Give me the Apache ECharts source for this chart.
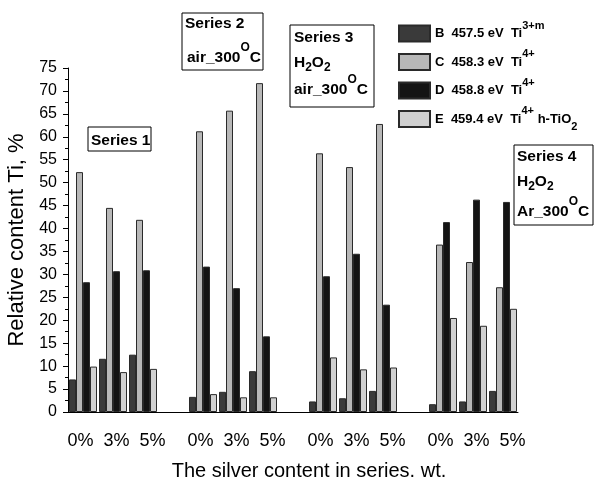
<!DOCTYPE html>
<html>
<head>
<meta charset="utf-8">
<script src="https://cdn.jsdelivr.net/npm/echarts@6/dist/echarts.min.js"></script>
<style>
html, body { margin: 0; padding: 0; background: #fff; }
#chart { width: 596px; height: 479px; }
</style>
</head>
<body>
<div id="chart"></div>
<script>
// silver content per slot, empty slots separate the four series
var categories = ['0%', '3%', '5%', '', '0%', '3%', '5%', '', '0%', '3%', '5%', '', '0%', '3%', '5%'];
var seriesB = [7.1, 11.6, 12.5, '-', 3.3, 4.4, 8.9, '-', 2.3, 3.0, 4.6, '-', 1.7, 2.3, 4.6];
var seriesC = [52.3, 44.5, 41.9, '-', 61.2, 65.7, 71.7, '-', 56.4, 53.4, 62.8, '-', 36.5, 32.7, 27.2];
var seriesD = [28.3, 30.7, 30.9, '-', 31.7, 27.0, 16.5, '-', 29.6, 34.5, 23.4, '-', 41.4, 46.3, 45.8];
var seriesE = [9.9, 8.7, 9.4, '-', 3.9, 3.2, 3.2, '-', 11.9, 9.3, 9.7, '-', 20.5, 18.8, 22.5];

var peakNames = ['B', 'C', 'D', 'E'];
var peakEnergy = ['457.5 eV', '458.3 eV', '458.8 eV', '459.4 eV'];
var peakState = ['3+m', '4+', '4+', '4+'];
var peakColors = ['#3a3a3a', '#b8b8b8', '#141414', '#d0d0d0'];

var font = 'Liberation Sans';

var myChart = echarts.init(document.getElementById('chart'));

function legendText(name) {
    var i = peakNames.indexOf(name);
    var s = '{n|' + name + '  ' + peakEnergy[i] + '  Ti}{s|' + peakState[i] + '}';
    if (name === 'E') s += '{n| h-TiO}{b|2}';
    return s;
}

// one text line of an annotation box
function noteLine(x, y, text) {
    return {
        type: 'text',
        style: {
            x: x, y: y, text: text,
            align: 'left', verticalAlign: 'middle',
            fill: '#000',
            rich: {
                n: { fontFamily: font, fontWeight: 'bold', fontSize: 15.5, padding: [8, 0, 8, 0], verticalAlign: 'middle' },
                m: { fontFamily: font, fontWeight: 'bold', fontSize: 15.5, padding: [3, 0, 3, 0], verticalAlign: 'middle' },
                s: { fontFamily: font, fontWeight: 'bold', fontSize: 12, verticalAlign: 'top' },
                b: { fontFamily: font, fontWeight: 'bold', fontSize: 12, verticalAlign: 'bottom' }
            }
        },
        z: 20
    };
}

function noteBox(x, y, w, h) {
    return {
        type: 'rect',
        shape: { x: x, y: y, width: w, height: h },
        style: { fill: '#fff', stroke: '#000', lineWidth: 1 },
        z: 19
    };
}

var labelKey = { '0%': 'a', '3%': 'b', '5%': 'c' };

var series = [seriesB, seriesC, seriesD, seriesE].map(function (d, i) {
    return {
        name: peakNames[i],
        type: 'bar',
        data: d,
        barWidth: 7,
        barGap: '0%',
        itemStyle: { color: peakColors[i], borderColor: '#2a2a2a', borderWidth: 1 }
    };
});

option = {
    backgroundColor: '#fff',
    animation: false,
    grid: { left: 68, right: 78, top: 68, bottom: 67, containLabel: false, outerBoundsMode: 'none' },
    legend: {
        orient: 'vertical',
        left: 393,
        top: 15,
        icon: 'rect',
        itemWidth: 31,
        itemHeight: 16,
        itemGap: 6,
        data: peakNames,
        formatter: legendText,
        textStyle: {
            color: '#000',
            rich: {
                n: { fontFamily: font, fontWeight: 'bold', fontSize: 13, padding: [7, 0, 7, 0], verticalAlign: 'middle', color: '#000' },
                s: { fontFamily: font, fontWeight: 'bold', fontSize: 11, verticalAlign: 'top', color: '#000' },
                b: { fontFamily: font, fontWeight: 'bold', fontSize: 11, verticalAlign: 'bottom', color: '#000' }
            }
        }
    },
    xAxis: [
        {
            type: 'category',
            data: categories,
            name: 'The silver content in series. wt.',
            nameLocation: 'middle',
            nameGap: 49,
            nameTextStyle: { fontFamily: font, fontSize: 20, color: '#000', padding: [0, 0, 0, 32] },
            axisLine: { lineStyle: { color: '#000', width: 1 } },
            axisTick: { alignWithLabel: true, interval: 0, length: 7, lineStyle: { color: '#000' } },
            axisLabel: {
                interval: 0,
                margin: 20,
                color: '#000',
                fontFamily: font,
                fontSize: 18,
                formatter: function (v) {
                    return v ? '{' + labelKey[v] + '|' + v + '}' : '';
                },
                rich: {
                    a: { fontFamily: font, fontSize: 18, color: '#000', padding: [0, 5, 0, 0] },
                    b: { fontFamily: font, fontSize: 18, color: '#000', padding: [0, 0, 0, 7] },
                    c: { fontFamily: font, fontSize: 18, color: '#000', padding: [0, 0, 0, 19] }
                }
            },
            splitLine: { show: false }
        },
        {
            type: 'category',
            data: categories,
            position: 'bottom',
            axisLine: { show: false },
            axisTick: { interval: 0, length: 3, lineStyle: { color: '#000' } },
            axisLabel: { show: false },
            splitLine: { show: false }
        }
    ],
    yAxis: {
        type: 'value',
        min: 0,
        max: 75,
        interval: 5,
        name: 'Relative content Ti, %',
        nameLocation: 'middle',
        nameGap: 23,
        nameTextStyle: { fontFamily: font, fontSize: 22, color: '#000' },
        axisLine: { show: true, lineStyle: { color: '#000', width: 1 } },
        axisTick: { show: true, length: 5, lineStyle: { color: '#000' } },
        minorTick: { show: true, splitNumber: 2, length: 3, lineStyle: { color: '#000' } },
        axisLabel: { color: '#000', fontFamily: font, fontSize: 16, margin: 11 },
        splitLine: { show: false },
        minorSplitLine: { show: false }
    },
    graphic: [
        noteBox(88, 127, 63, 24),
        noteLine(91, 141, '{n|Series 1}'),
        noteBox(182, 13, 81, 57),
        noteLine(185, 23.5, '{n|Series 2}'),
        noteLine(187, 58, '{n|air_300}{s|O}{n|C}'),
        noteBox(290, 25, 84, 82),
        noteLine(294, 37.5, '{n|Series 3}'),
        noteLine(294, 62.5, '{m|H}{b|2}{m|O}{b|2}'),
        noteLine(294, 90, '{n|air_300}{s|O}{n|C}'),
        noteBox(514, 145, 79, 80),
        noteLine(517, 156.5, '{n|Series 4}'),
        noteLine(517, 181.5, '{m|H}{b|2}{m|O}{b|2}'),
        noteLine(517, 211.5, '{n|Ar_300}{s|O}{n|C}')
    ],
    series: series
};

myChart.setOption(option);
</script>
</body>
</html>
